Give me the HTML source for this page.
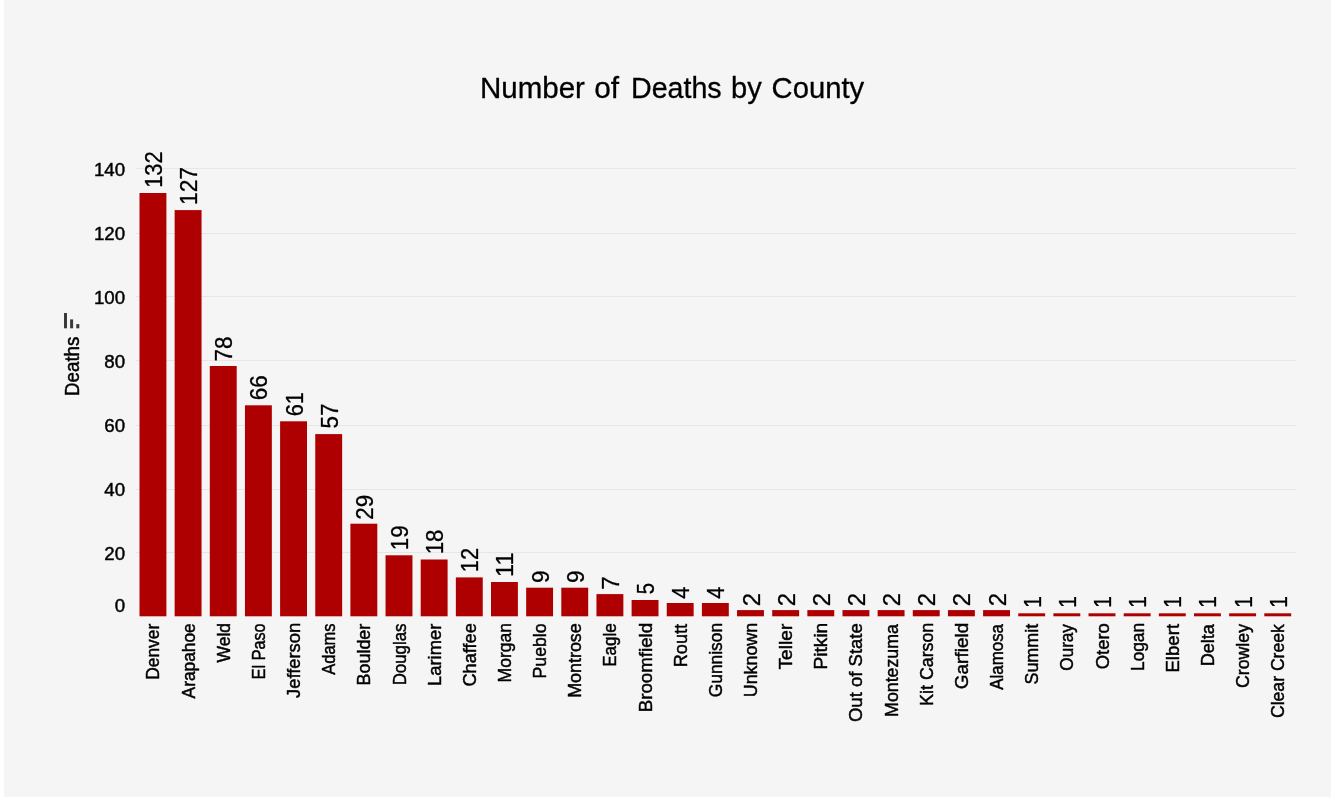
<!DOCTYPE html>
<html lang="en"><head><meta charset="utf-8"><title>Number of Deaths by County</title>
<style>html,body{margin:0;padding:0;background:#f5f5f5;}body{width:1331px;height:797px;overflow:hidden;}svg{display:block;}text{font-family:"Liberation Sans", Arial, sans-serif;fill:#000000;stroke:#000000;stroke-width:0.45px;stroke-linejoin:round;}.tt{stroke-width:0.3px;}.vv text{stroke-width:0.3px;}</style>
</head><body>
<svg width="1331" height="797" viewBox="0 0 1331 797">
<rect x="0" y="0" width="1331" height="797" fill="#f5f5f5"/>
<rect x="0" y="0" width="4" height="797" fill="#ffffff"/>
<text class="tt" y="97.7" font-size="29.1"><tspan x="479.94" textLength="104.96" lengthAdjust="spacingAndGlyphs">Number</tspan> <tspan x="594.21" textLength="24.86" lengthAdjust="spacingAndGlyphs">of</tspan> <tspan x="631.01" textLength="90.65" lengthAdjust="spacingAndGlyphs">Deaths</tspan> <tspan x="731.01" textLength="30.73" lengthAdjust="spacingAndGlyphs">by</tspan> <tspan x="771.64" textLength="92.62" lengthAdjust="spacingAndGlyphs">County</tspan></text>
<rect x="136" y="168" width="1160" height="1" fill="#e6e6e6"/>
<rect x="136" y="233" width="1160" height="1" fill="#e6e6e6"/>
<rect x="136" y="296" width="1160" height="1" fill="#e6e6e6"/>
<rect x="136" y="360" width="1160" height="1" fill="#e6e6e6"/>
<rect x="136" y="425" width="1160" height="1" fill="#e6e6e6"/>
<rect x="136" y="489" width="1160" height="1" fill="#e6e6e6"/>
<rect x="136" y="552" width="1160" height="1" fill="#e6e6e6"/>
<text x="114.68" y="611.9" font-size="18.7">0</text>
<text x="104.3" y="559.9" font-size="18.7">20</text>
<text x="104.3" y="495.9" font-size="18.7">40</text>
<text x="104.3" y="431.9" font-size="18.7">60</text>
<text x="104.3" y="367.9" font-size="18.7">80</text>
<text x="93.92" y="303.9" font-size="18.7">100</text>
<text x="93.92" y="239.9" font-size="18.7">120</text>
<text x="93.92" y="175.9" font-size="18.7">140</text>
<text transform="translate(79.3,395.9) rotate(-90) scale(0.9701,1)" font-size="19.3">Deaths</text>
<g fill="#3a3a3a"><rect x="64" y="313" width="3" height="15.3"/><rect x="70.1" y="319.4" width="3" height="8.9"/><rect x="76.3" y="324.1" width="3" height="4.2"/></g>
<g fill="#ae0000">
<rect x="139.5" y="193" width="26.9" height="423.3"/>
<rect x="174.65" y="210.1" width="26.9" height="406.2"/>
<rect x="209.8" y="366" width="26.9" height="250.3"/>
<rect x="244.95" y="405.3" width="26.9" height="211"/>
<rect x="280.1" y="421.3" width="26.9" height="195"/>
<rect x="315.25" y="434.1" width="26.9" height="182.2"/>
<rect x="350.4" y="523.7" width="26.9" height="92.6"/>
<rect x="385.55" y="555.3" width="26.9" height="61"/>
<rect x="420.7" y="559.5" width="26.9" height="56.8"/>
<rect x="455.85" y="577.4" width="26.9" height="38.9"/>
<rect x="491" y="582" width="26.9" height="34.3"/>
<rect x="526.15" y="587.7" width="26.9" height="28.6"/>
<rect x="561.3" y="587.7" width="26.9" height="28.6"/>
<rect x="596.45" y="594.1" width="26.9" height="22.2"/>
<rect x="631.6" y="600" width="26.9" height="16.3"/>
<rect x="666.75" y="603" width="26.9" height="13.3"/>
<rect x="701.9" y="603" width="26.9" height="13.3"/>
<rect x="737.05" y="610.1" width="26.9" height="6.2"/>
<rect x="772.2" y="610.1" width="26.9" height="6.2"/>
<rect x="807.35" y="610.1" width="26.9" height="6.2"/>
<rect x="842.5" y="610.1" width="26.9" height="6.2"/>
<rect x="877.65" y="610.1" width="26.9" height="6.2"/>
<rect x="912.8" y="610.1" width="26.9" height="6.2"/>
<rect x="947.95" y="610.1" width="26.9" height="6.2"/>
<rect x="983.1" y="610.1" width="26.9" height="6.2"/>
<rect x="1018.25" y="613.3" width="26.9" height="3"/>
<rect x="1053.4" y="613.3" width="26.9" height="3"/>
<rect x="1088.55" y="613.3" width="26.9" height="3"/>
<rect x="1123.7" y="613.3" width="26.9" height="3"/>
<rect x="1158.85" y="613.3" width="26.9" height="3"/>
<rect x="1194" y="613.3" width="26.9" height="3"/>
<rect x="1229.15" y="613.3" width="26.9" height="3"/>
<rect x="1264.3" y="613.3" width="26.9" height="3"/>
</g>
<g class="vv" font-size="23.4">
<text transform="translate(161.95,187.85) rotate(-90) scale(0.9380,1)">132</text>
<text transform="translate(197.1,205) rotate(-90) scale(0.9713,1)">127</text>
<text transform="translate(232.25,361.52) rotate(-90) scale(0.9594,1)">78</text>
<text transform="translate(267.4,400.32) rotate(-90) scale(0.9594,1)">66</text>
<text transform="translate(302.55,416.29) rotate(-90) scale(0.9324,1)">61</text>
<text transform="translate(337.7,428.5) rotate(-90) scale(0.9594,1)">57</text>
<text transform="translate(372.85,519.82) rotate(-90) scale(0.9600,1)">29</text>
<text transform="translate(408,550.17) rotate(-90) scale(0.9540,1)">19</text>
<text transform="translate(443.15,554.37) rotate(-90) scale(0.9492,1)">18</text>
<text transform="translate(478.3,572.24) rotate(-90) scale(0.9328,1)">12</text>
<text transform="translate(513.45,576.97) rotate(-90) scale(1.0081,1)">11</text>
<text transform="translate(548.6,583.01) rotate(-90) scale(0.9558,1)">9</text>
<text transform="translate(583.75,583.01) rotate(-90) scale(0.9558,1)">9</text>
<text transform="translate(618.9,589.72) rotate(-90) scale(1.0425,1)">7</text>
<text transform="translate(654.05,594.31) rotate(-90) scale(0.8637,1)">5</text>
<text transform="translate(689.2,598.64) rotate(-90) scale(0.9309,1)">4</text>
<text transform="translate(724.35,598.64) rotate(-90) scale(0.9309,1)">4</text>
<text transform="translate(759.5,606.3) rotate(-90) scale(1.0238,1)">2</text>
<text transform="translate(794.65,606.3) rotate(-90) scale(1.0238,1)">2</text>
<text transform="translate(829.8,606.3) rotate(-90) scale(1.0238,1)">2</text>
<text transform="translate(864.95,606.3) rotate(-90) scale(1.0238,1)">2</text>
<text transform="translate(900.1,606.3) rotate(-90) scale(1.0238,1)">2</text>
<text transform="translate(935.25,606.3) rotate(-90) scale(1.0238,1)">2</text>
<text transform="translate(970.4,606.3) rotate(-90) scale(1.0238,1)">2</text>
<text transform="translate(1005.55,606.3) rotate(-90) scale(1.0238,1)">2</text>
<text transform="translate(1040.7,608.12) rotate(-90) scale(0.9259,1)">1</text>
<text transform="translate(1075.85,608.12) rotate(-90) scale(0.9259,1)">1</text>
<text transform="translate(1111,608.12) rotate(-90) scale(0.9259,1)">1</text>
<text transform="translate(1146.15,608.12) rotate(-90) scale(0.9259,1)">1</text>
<text transform="translate(1181.3,608.12) rotate(-90) scale(0.9259,1)">1</text>
<text transform="translate(1216.45,608.12) rotate(-90) scale(0.9259,1)">1</text>
<text transform="translate(1251.6,608.12) rotate(-90) scale(0.9259,1)">1</text>
<text transform="translate(1286.75,608.12) rotate(-90) scale(0.9259,1)">1</text>
</g>
<g font-size="18">
<text transform="translate(159.45,679.79) rotate(-90) scale(0.9671,1)">Denver</text>
<text transform="translate(194.6,698.4) rotate(-90) scale(0.9635,1)">Arapahoe</text>
<text transform="translate(229.75,662.49) rotate(-90) scale(0.9741,1)">Weld</text>
<text transform="translate(264.9,679.3) rotate(-90) scale(0.9023,1)">El Paso</text>
<text transform="translate(300.05,697.98) rotate(-90) scale(1.0198,1)">Jefferson</text>
<text transform="translate(335.2,674.8) rotate(-90) scale(0.9178,1)">Adams</text>
<text transform="translate(370.35,685.43) rotate(-90) scale(0.9950,1)">Boulder</text>
<text transform="translate(405.5,685.35) rotate(-90) scale(0.9376,1)">Douglas</text>
<text transform="translate(440.65,685.97) rotate(-90) scale(1.0216,1)">Larimer</text>
<text transform="translate(475.8,686.61) rotate(-90) scale(1.0111,1)">Chaffee</text>
<text transform="translate(510.95,682.41) rotate(-90) scale(0.9759,1)">Morgan</text>
<text transform="translate(546.1,678.52) rotate(-90) scale(0.9850,1)">Pueblo</text>
<text transform="translate(581.25,697.83) rotate(-90) scale(0.9956,1)">Montrose</text>
<text transform="translate(616.4,666.76) rotate(-90) scale(0.9465,1)">Eagle</text>
<text transform="translate(651.55,712.3) rotate(-90) scale(1.0404,1)">Broomfield</text>
<text transform="translate(686.7,667.36) rotate(-90) scale(1.0121,1)">Routt</text>
<text transform="translate(721.85,697.27) rotate(-90) scale(0.9657,1)">Gunnison</text>
<text transform="translate(757,697.24) rotate(-90) scale(0.9912,1)">Unknown</text>
<text transform="translate(792.15,669.48) rotate(-90) scale(1.0662,1)">Teller</text>
<text transform="translate(827.3,669.43) rotate(-90) scale(1.0604,1)">Pitkin</text>
<text transform="translate(862.45,722.03) rotate(-90) scale(1.0296,1)">Out of State</text>
<text transform="translate(897.6,716.92) rotate(-90) scale(0.9880,1)">Montezuma</text>
<text transform="translate(932.75,705.72) rotate(-90) scale(0.9870,1)">Kit Carson</text>
<text transform="translate(967.9,689.15) rotate(-90) scale(1.0537,1)">Garfield</text>
<text transform="translate(1003.05,689.7) rotate(-90) scale(0.9383,1)">Alamosa</text>
<text transform="translate(1038.2,684.51) rotate(-90) scale(0.9945,1)">Summit</text>
<text transform="translate(1073.35,670.67) rotate(-90) scale(0.9515,1)">Ouray</text>
<text transform="translate(1108.5,669.23) rotate(-90) scale(1.0214,1)">Otero</text>
<text transform="translate(1143.65,670.98) rotate(-90) scale(0.9614,1)">Logan</text>
<text transform="translate(1178.8,672.59) rotate(-90) scale(1.0363,1)">Elbert</text>
<text transform="translate(1213.95,666.35) rotate(-90) scale(1.0076,1)">Delta</text>
<text transform="translate(1249.1,688.09) rotate(-90) scale(0.9863,1)">Crowley</text>
<text transform="translate(1284.25,718.08) rotate(-90) scale(0.9797,1)">Clear Creek</text>
</g>
</svg>
</body></html>
